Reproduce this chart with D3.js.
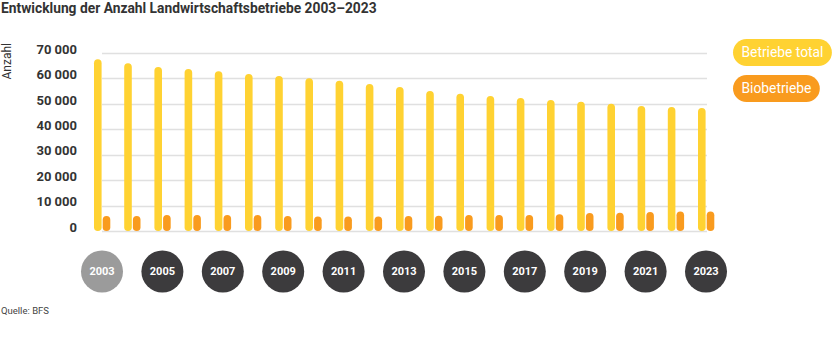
<!DOCTYPE html>
<html><head><meta charset="utf-8">
<script src="https://cdn.jsdelivr.net/npm/d3@7"></script>
<style>
html,body{margin:0;padding:0;background:#fff;}
svg{display:block;font-family:Roboto, "Noto Sans", sans-serif;}
</style></head>
<body>
<svg id="chart" width="836" height="364"></svg>
<script>
const years = [2003,2004,2005,2006,2007,2008,2009,2010,2011,2012,2013,2014,2015,2016,2017,2018,2019,2020,2021,2022,2023];
const betriebeTotal = [67500,65950,64500,63700,62800,61750,60950,60050,59100,57800,56600,55050,54000,53100,52300,51500,50850,50050,49150,48750,48350];
const biobetriebe = [5900,5900,6300,6300,6300,6300,5900,5700,5700,5700,5900,6000,6300,6300,6300,6600,7100,7200,7500,7700,7700];
const yTicks = [0,10000,20000,30000,40000,50000,60000,70000];
const yearLabels = [2003,2005,2007,2009,2011,2013,2015,2017,2019,2021,2023];
const seriesNames = ["Betriebe total","Biobetriebe"];
const titleText = "Entwicklung der Anzahl Landwirtschaftsbetriebe 2003–2023";
const yAxisTitle = "Anzahl";
const sourceText = "Quelle: BFS";

const colors = {total:"#FFD232", bio:"#F99B1E", grid:"#e0e0e0", text:"#333333", circle:"#3c3b3d", circleActive:"#9b9b9b"};

const svg = d3.select("#chart");
const x = d3.scalePoint().domain(years).range([102, 706]);
const y = d3.scaleLinear().domain([0,70000]).range([231, 53]);

// title
svg.append("text").attr("x",1).attr("y",13).attr("fill",colors.text)
  .attr("font-size",13.8).attr("font-weight",700).text(titleText);

// y-axis title
svg.append("text").attr("transform","translate(10.5,43) rotate(-90)")
  .attr("text-anchor","end").attr("font-size",12).attr("fill",colors.text).text(yAxisTitle);

// gridlines
svg.append("g").selectAll("line").data(yTicks).join("line")
  .attr("x1",x(years[0])).attr("x2",x(years[years.length-1])+1)
  .attr("y1",d=>Math.round(y(d))+0.5).attr("y2",d=>Math.round(y(d))+0.5)
  .attr("stroke",colors.grid).attr("stroke-width",1.5);

// tick labels
svg.append("g").selectAll("text").data(yTicks).join("text")
  .attr("x",77).attr("y",d=>y(d)-4).attr("dy","0.36em")
  .attr("text-anchor","end").attr("font-size",13).attr("font-weight",700)
  .attr("fill",colors.text).text(d=>d3.format(",")(d).replace(/,/g," "));

// bars
const bw = 7.6;
svg.append("g").selectAll("rect").data(years).join("rect")
  .attr("x",(d)=>x(d)-8).attr("width",bw)
  .attr("y",(d,i)=>y(betriebeTotal[i])).attr("height",(d,i)=>y(0)-y(betriebeTotal[i]))
  .attr("rx",bw/2).attr("fill",colors.total);
svg.append("g").selectAll("rect").data(years).join("rect")
  .attr("x",(d)=>x(d)+0.7).attr("width",bw)
  .attr("y",(d,i)=>y(biobetriebe[i])).attr("height",(d,i)=>y(0)-y(biobetriebe[i]))
  .attr("rx",bw/2).attr("fill",colors.bio);

// year circles
const yc = svg.append("g").selectAll("g").data(yearLabels).join("g")
  .attr("transform",d=>`translate(${x(d)},271.5)`);
yc.append("circle").attr("r",21).attr("fill",(d,i)=>i===0?colors.circleActive:colors.circle);
yc.append("text").attr("text-anchor","middle").attr("dy","0.36em")
  .attr("font-size",11).attr("font-weight",700).attr("fill","#fff").text(d=>d);

// legend
const legColors = [colors.total, colors.bio];
const legY = [39, 75];
seriesNames.forEach((name,i)=>{
  const g = svg.append("g").attr("transform",`translate(733,${legY[i]})`);
  const r = g.append("rect").attr("height",27).attr("rx",13.5).attr("fill",legColors[i]);
  const t = g.append("text").attr("x",8.5).attr("y",13.5).attr("dy","0.36em")
    .attr("font-size",13.8).attr("fill","#fff").text(name);
  const w = t.node().getComputedTextLength();
  r.attr("width", w + 17);
});

// source
svg.append("text").attr("x",1).attr("y",314).attr("font-size",9.5)
  .attr("fill","#444").text(sourceText);
</script>
</body></html>
